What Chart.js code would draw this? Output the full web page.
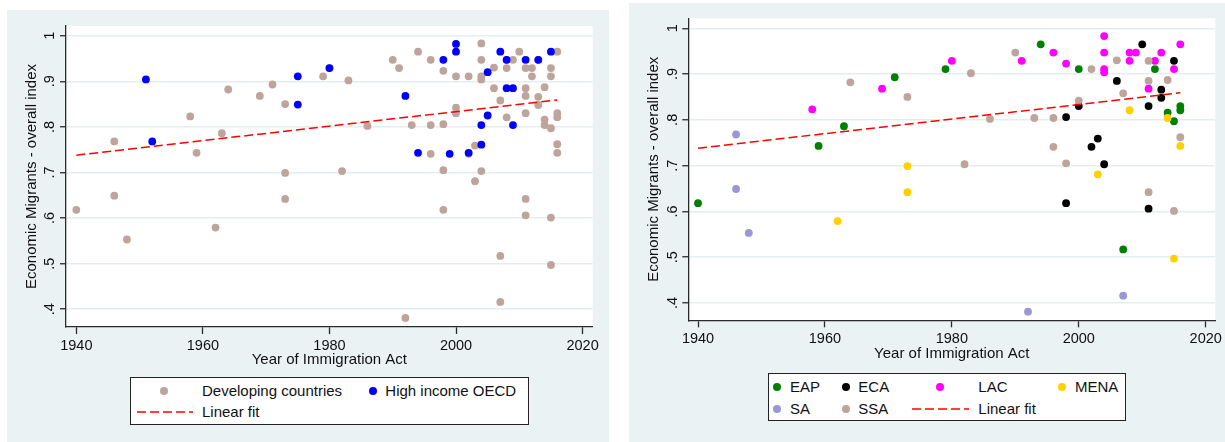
<!DOCTYPE html>
<html>
<head>
<meta charset="utf-8">
<script src="https://cdn.jsdelivr.net/npm/chart.js@4.4.0/dist/chart.umd.min.js"></script>
<style>
  body { margin: 0; width: 1225px; height: 442px; position: relative; background: #fff; overflow: hidden;
         font-family: 'Liberation Sans', Arial, sans-serif; }
  .panel { position: absolute; background: #eaf2f3; }
  .panel canvas { position: absolute; left: 0; top: 0; }
  .legend { position: absolute; background: #fff; border: 1px solid #222; box-sizing: border-box; }
  .lg { position: absolute; font-size: 15px; line-height: 18px; color: #111; white-space: nowrap; }
  .dot { position: absolute; width: 8px; height: 8px; border-radius: 50%; }
</style>
</head>
<body>
<div class="panel" style="left:7px;top:10px;width:602px;height:432px"><canvas id="left" width="602" height="432"></canvas></div>
<div class="panel" style="left:629px;top:3px;width:596px;height:439px"><canvas id="right" width="596" height="439"></canvas></div>
<div class="legend" style="left:130px;top:377px;width:399px;height:48px"></div>
<div class="legend" style="left:768px;top:373px;width:358px;height:48px"></div>

<script>
// axis ticks
var xTicks = [1940, 1960, 1980, 2000, 2020];
var yTicks = [0.4, 0.5, 0.6, 0.7, 0.8, 0.9, 1];

// High income OECD (left panel only)
var oecdYears = [1951, 1952, 1975, 1975, 1980, 1992, 1994, 1998, 1999, 2000, 2000, 2002,
                 2004, 2004, 2005, 2005, 2007, 2008, 2008, 2009, 2009, 2011, 2013, 2015];
var oecdIndex = [0.904, 0.768, 0.911, 0.849, 0.929, 0.868, 0.743, 0.947, 0.741, 0.982, 0.965, 0.743,
                 0.804, 0.761, 0.920, 0.825, 0.965, 0.947, 0.885, 0.885, 0.804, 0.947, 0.947, 0.965];

// developing countries by region
var eapYears = [1940, 1959, 1963, 1971, 1979, 1994, 2000, 2007, 2012, 2014, 2015, 2016, 2016];
var eapIndex = [0.618, 0.743, 0.786, 0.893, 0.911, 0.965, 0.911, 0.517, 0.911, 0.816, 0.797, 0.830, 0.821];

var ecaYears = [1998, 1998, 2000, 2002, 2003, 2004, 2006, 2010, 2011, 2011, 2013, 2013, 2015];
var ecaIndex = [0.806, 0.618, 0.830, 0.741, 0.759, 0.703, 0.885, 0.965, 0.830, 0.606, 0.866, 0.848, 0.929];

var lacYears = [1958, 1969, 1980, 1991, 1996, 1998, 2004, 2004, 2004, 2004, 2008, 2008, 2009,
                2011, 2012, 2013, 2015, 2016];
var lacIndex = [0.823, 0.868, 0.929, 0.929, 0.947, 0.923, 0.983, 0.947, 0.911, 0.904, 0.947, 0.929, 0.947,
                0.868, 0.929, 0.947, 0.911, 0.965];

var menaYears = [1962, 1973, 1973, 2003, 2008, 2014, 2015, 2016];
var menaIndex = [0.579, 0.699, 0.642, 0.681, 0.821, 0.804, 0.497, 0.743];

var saYears = [1946, 1946, 1948, 1992, 2007];
var saIndex = [0.768, 0.649, 0.553, 0.381, 0.416];

var ssaYears = [1964, 1973, 1982, 1983, 1986, 1990, 1993, 1996, 1996, 1998, 2000, 2002,
                2006, 2007, 2011, 2011, 2011, 2014, 2015, 2016];
var ssaIndex = [0.882, 0.850, 0.703, 0.902, 0.802, 0.947, 0.804, 0.804, 0.741, 0.705, 0.842, 0.911,
                0.930, 0.858, 0.929, 0.885, 0.642, 0.887, 0.601, 0.762];

// linear fit end points
var fitYears = [1940, 2016];
var fitIndex = [0.738, 0.859];

var textColor = '#111';
var axisColor = '#2a2a2a';
var tan = '#bfa49b';

function pts(xs, ys) {
  return xs.map(function (x, i) { return { x: x, y: ys[i] }; });
}

var devYears = [].concat(eapYears, ecaYears, lacYears, menaYears, saYears, ssaYears);
var devIndex = [].concat(eapIndex, ecaIndex, lacIndex, menaIndex, saIndex, ssaIndex);

// white plot region
var plotBg = {
  id: 'plotBg',
  beforeDraw: function (chart) {
    var a = chart.chartArea, ctx = chart.ctx;
    ctx.save();
    ctx.fillStyle = '#fff';
    ctx.fillRect(a.left, a.top, a.right - a.left, a.bottom - a.top);
    ctx.restore();
  }
};

function dots(label, xs, ys, color, order) {
  return { label: label, data: pts(xs, ys), backgroundColor: color, borderWidth: 0,
           pointRadius: 3.9, pointHoverRadius: 3.9, order: order };
}

function fitLine() {
  return { label: 'Linear fit', data: pts(fitYears, fitIndex), showLine: true, borderColor: '#ff0000',
           borderWidth: 1.5, borderDash: [9, 4], pointRadius: 0, fill: false, order: 0 };
}

function makeChart(id, datasets, g) {
  var tickFont = { family: "'Liberation Sans', Arial, sans-serif", size: 14.5 };
  var titleFont = { family: "'Liberation Sans', Arial, sans-serif", size: 15 };
  return new Chart(document.getElementById(id), {
    type: 'scatter',
    data: { datasets: datasets },
    options: {
      responsive: false,
      animation: false,
      devicePixelRatio: 1,
      layout: { padding: g.pad },
      plugins: { legend: { display: false }, tooltip: { enabled: false } },
      scales: {
        x: {
          type: 'linear', min: g.xMin, max: g.xMax,
          afterBuildTicks: function (s) { s.ticks = xTicks.map(function (v) { return { value: v }; }); },
          afterFit: function (s) { s.height = g.xHeight; },
          ticks: { font: tickFont, color: textColor, padding: 3, maxRotation: 0, autoSkip: false,
                   callback: function (v) { return String(v); } },
          grid: { drawOnChartArea: false, tickLength: 7, tickColor: axisColor, tickWidth: 1.3 },
          border: { color: axisColor, width: 1.3 },
          title: { display: true, text: 'Year of Immigration Act', font: titleFont, color: textColor,
                   padding: { top: 0, bottom: 0 } }
        },
        y: {
          type: 'linear', min: g.yMin, max: g.yMax,
          afterBuildTicks: function (s) { s.ticks = yTicks.map(function (v) { return { value: v }; }); },
          afterFit: function (s) { s.width = g.yWidth; },
          ticks: { font: tickFont, color: textColor, padding: g.yTickPad, minRotation: 90, maxRotation: 90,
                   crossAlign: 'center', autoSkip: false,
                   callback: function (v) { return v >= 0.999 ? '1' : '.' + Math.round(v * 10); } },
          grid: { color: '#e4eef0', lineWidth: 1.5, tickLength: 6, tickColor: axisColor, tickWidth: 1.3 },
          border: { color: axisColor, width: 1.3 },
          title: { display: true, text: 'Economic Migrants - overall index', font: titleFont, color: textColor,
                   padding: { top: g.yTitlePad, bottom: 0 } }
        }
      }
    },
    plugins: [plotBg]
  });
}

makeChart('left', [
  fitLine(),
  dots('High income OECD', oecdYears, oecdIndex, '#0000ff', 1),
  dots('Developing countries', devYears, devIndex, tan, 2)
], {
  pad: { left: 0, top: 16, right: 16.3, bottom: 72.7 },
  xHeight: 42.3, yWidth: 59, yTickPad: 4, yTitlePad: 15.7,
  xMin: 1938.37, xMax: 2021.6, yMin: 0.361, yMax: 1.0213
});

var regions = [
  { label: 'EAP', xs: eapYears, ys: eapIndex, color: '#008000' },
  { label: 'ECA', xs: ecaYears, ys: ecaIndex, color: '#000000' },
  { label: 'LAC', xs: lacYears, ys: lacIndex, color: '#ff00ff' },
  { label: 'MENA', xs: menaYears, ys: menaIndex, color: '#ffd000' },
  { label: 'SA', xs: saYears, ys: saIndex, color: '#9b96d6' },
  { label: 'SSA', xs: ssaYears, ys: ssaIndex, color: tan }
];
var rightSets = [fitLine()];
regions.forEach(function (r, i) {
  rightSets.push(dots(r.label, r.xs, r.ys, r.color, regions.length - i));
});

makeChart('right', rightSets, {
  pad: { left: 0, top: 15.3, right: 9.7, bottom: 79.3 },
  xHeight: 42.4, yWidth: 59.3, yTickPad: 3, yTitlePad: 16.3,
  xMin: 1938.47, xMax: 2021.5, yMin: 0.3622, yMax: 1.0218
});

// legends (page coordinates)
function legendDot(x, y, color) {
  var d = document.createElement('div');
  d.className = 'dot';
  d.style.left = (x - 4) + 'px';
  d.style.top = (y - 4) + 'px';
  d.style.background = color;
  document.body.appendChild(d);
}
function legendText(x, y, text) {
  var s = document.createElement('div');
  s.className = 'lg';
  s.style.left = x + 'px';
  s.style.top = (y - 9) + 'px';
  s.textContent = text;
  document.body.appendChild(s);
}
function legendLine(x1, x2, y) {
  var ns = 'http://www.w3.org/2000/svg';
  var svg = document.createElementNS(ns, 'svg');
  svg.setAttribute('width', x2 - x1);
  svg.setAttribute('height', 4);
  svg.style.position = 'absolute';
  svg.style.left = x1 + 'px';
  svg.style.top = (y - 2) + 'px';
  var l = document.createElementNS(ns, 'line');
  l.setAttribute('x1', 0); l.setAttribute('x2', x2 - x1);
  l.setAttribute('y1', 2); l.setAttribute('y2', 2);
  l.setAttribute('stroke', '#ff0000');
  l.setAttribute('stroke-width', 1.5);
  l.setAttribute('stroke-dasharray', '9 4');
  svg.appendChild(l);
  document.body.appendChild(svg);
}

legendDot(164.3, 391, tan); legendText(202, 391, 'Developing countries');
legendDot(372.7, 391, '#0000ff'); legendText(385.3, 391, 'High income OECD');
legendLine(136.7, 192.7, 412); legendText(202, 412, 'Linear fit');

var rx = [[777.3, 790], [846, 858.3], [940, 978.3], [1062.3, 1075], [777.3, 790], [846, 858.3]];
var ry = [387.3, 387.3, 387.3, 387.3, 408.7, 408.7];
regions.forEach(function (r, i) {
  legendDot(rx[i][0], ry[i], r.color);
  legendText(rx[i][1], ry[i], r.label);
});
legendLine(911.7, 969.3, 408.7); legendText(978.3, 408.7, 'Linear fit');
</script>
</body>
</html>
